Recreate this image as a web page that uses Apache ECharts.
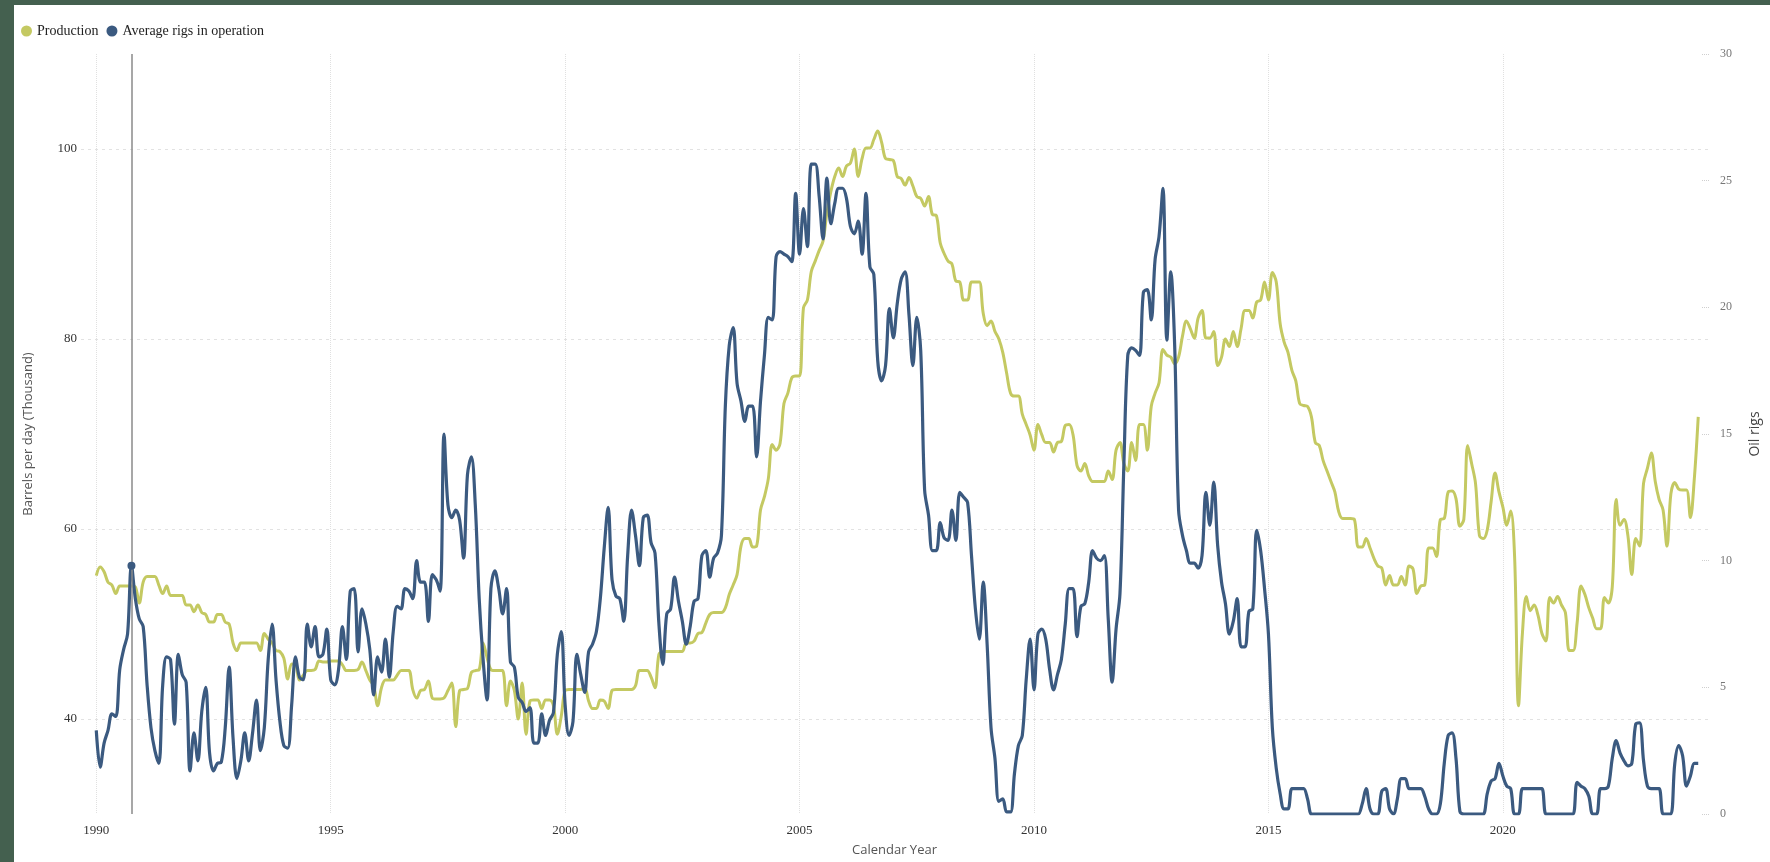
<!DOCTYPE html>
<html><head><meta charset="utf-8">
<script src="https://cdn.jsdelivr.net/npm/echarts@6/dist/echarts.min.js"></script>
<style>
html,body{margin:0;padding:0;background:#44604f;width:1770px;height:862px;overflow:hidden}
#chart{position:absolute;left:14px;top:5px;width:1756px;height:857px;background:#fff}
</style></head><body><div id="chart"></div>
<script>
// Monthly data, January 1990 to March 2024
const startYear = 1990;
const seriesNames = ['Production', 'Average rigs in operation'];
const production = [
55.1,56,55.5,54.4,54.1,53.2,54,54,54,54,
53.9,52.2,54.4,55,55,55,54.1,53.2,54,53,
53,53,53,52,52,51.3,52,51.2,51,50.2,
50.2,51,51,50.2,50,48,47.2,48,48,48,
48,48,47.2,49,48.4,48,47.2,47.1,46.4,44.2,
45.8,45.7,44.1,44.6,45.1,45.1,45.2,46.1,46,46,
46.1,46.1,46.1,45.7,45.1,45.1,45.1,45.2,46,45.1,
44.1,43.5,41.4,43.3,44.1,44.1,44.1,44.6,45.1,45.1,
45.1,43.1,42.2,43,43.1,44,42.2,42.1,42.1,42.2,
43,43.8,39.2,43,43.1,43.2,44.9,45.1,45.2,48,
46.5,45.2,45.1,45.1,45.1,41.4,44,43,40,43.8,
38.4,41.9,42,42,41.1,42,42,41.4,38.4,40.3,
43,43.1,43.1,43.1,43.1,43.3,41.9,41.1,41.1,42,
41.9,41.1,43,43.1,43.1,43.1,43.1,43.1,43.5,45.1,
45.1,45.1,44.4,43.3,46.8,47.1,47.1,47.1,47.1,47.1,
47.1,48,48,48.2,49,49.1,50.1,51,51.2,51.2,
51.2,51.7,53.1,54.1,55.2,58.2,59,59,58.1,58.2,
62,63.4,65.3,68.9,68.3,69,73.2,74.3,75.9,76.1,
76.1,83.3,84.1,87.1,88.2,89.3,90.3,93.3,95.5,97.1,
98,97.1,98.2,98.5,100,97.1,99,100.1,100.1,101,
101.9,100.7,99,98.9,98.8,97.1,96.9,96.2,97,96.1,
95,94.8,94,95,93.1,93,90.1,89,88.2,87.9,
86.1,86,84.1,84.1,86,86,86,82.7,81.4,81.9,
80.8,80,78.6,76.4,74.3,74,74,72.1,71,69.9,
68.3,71,69.9,69.1,69.1,68.1,69.1,69.2,70.9,71,
69.9,66.7,66.1,66.9,65.6,65,65,65,65,66.1,
65.2,68.3,69.1,66.9,66.1,69.1,67.2,71,71,68.3,
72.9,74.3,75.4,78.9,78.3,78.1,77.4,78.1,80.3,81.9,
81.1,80.1,82.2,83,80.1,80.1,80.8,77.2,78.1,80,
79.2,80.8,79.2,81.1,83,83,82.2,83.9,84.1,86,
84.1,87,86,81.6,79.7,78.6,76.7,75.6,73.2,73,
72.9,71.8,69.1,68.8,67.2,66.1,65,63.9,61.8,61.1,
61.1,61.1,61,58.1,58.1,59,58,56.9,56.1,55.9,
54.1,55.1,54.1,54.1,55,54.1,56.1,55.8,53.2,54,
54.1,58,58,57.1,61,61.1,63.9,64,63.2,60.3,
61,68.8,66.9,64.8,59.3,59,59.9,62.9,65.9,63.9,
62.3,60.4,61.9,57.1,41.4,49,52.9,51.4,52,50.9,
49,48.2,52.8,52.2,52.9,52,51.2,47.2,47.2,50.1,
54,53.1,51.7,50.6,49.5,49.5,52.8,52.2,53.9,63.1,
60.4,61,59.3,55.2,59,58.2,64.8,66.4,68,65,
63.1,62,58.2,63.7,64.9,64.2,64.1,64.1,61.2,65.3,71.8
];
const rigs = [
3.3,1.85,2.8,3.3,3.95,3.85,5.7,6.5,7.1,9.8,
8.5,7.7,7.4,5.1,3.4,2.5,2.0,5.1,6.2,6.1,
3.55,6.3,5.5,5.2,1.7,3.2,2.1,4.05,5.0,2.4,
1.7,2.0,2.05,3.4,5.8,3.0,1.4,2.1,3.2,2.1,
3.2,4.5,2.5,3.4,6.1,7.5,5.3,3.65,2.7,2.6,
4.3,6.2,5.4,5.3,7.5,6.6,7.4,6.2,6.3,7.3,
5.3,5.1,5.7,7.4,6.1,8.8,8.9,6.4,8.1,7.5,
6.5,4.7,6.2,5.6,6.9,5.4,7.2,8.2,8.1,8.9,
8.8,8.5,10.0,9.15,9.15,7.6,9.45,9.25,8.8,15.0,
12.2,11.7,12.0,11.6,10.1,13.4,14.1,12.2,8.5,6.1,
4.5,8.9,9.6,8.9,7.9,8.9,6.0,5.8,4.6,4.4,
4.05,4.2,2.8,2.8,3.95,3.1,3.7,4.0,6.3,7.2,
4.3,3.1,3.65,6.3,5.5,4.8,6.4,6.7,7.2,8.5,
10.5,12.1,9.25,8.6,8.5,7.6,10.2,12.0,11.0,9.8,
11.7,11.8,10.7,10.3,7.5,5.9,7.9,8.1,9.35,8.4,
7.6,6.7,7.4,8.4,8.5,10.2,10.4,9.35,10.1,10.3,
11.0,16.1,18.5,19.2,17.0,16.3,15.5,16.1,16.1,14.1,
16.3,18.1,19.6,19.5,22.0,22.2,22.1,22.0,21.8,24.5,
22.1,23.9,22.4,25.65,25.65,24.4,22.7,25.1,23.3,24.1,
24.7,24.7,24.3,23.2,22.9,23.4,22.1,24.5,21.6,21.3,
17.9,17.1,17.7,19.95,18.8,20.15,21.1,21.4,19.7,17.7,
19.6,18.3,12.8,11.8,10.4,10.4,11.5,10.9,10.8,12.0,
10.8,12.7,12.5,12.3,10.2,8.1,6.9,9.15,6.7,3.4,
2.2,0.5,0.6,0.08,0.08,1.6,2.7,3.1,5.3,6.9,
4.9,7.1,7.3,6.9,5.7,4.9,5.5,6.1,7.5,8.9,
8.9,7.0,8.2,8.3,9.15,10.4,10.1,10.0,10.2,7.7,
5.2,7.3,8.7,13.8,18.1,18.4,18.3,18.1,20.6,20.7,
19.5,21.9,22.8,24.7,18.7,21.4,18.5,12.0,11.0,10.4,
9.9,9.9,9.7,10.2,12.7,11.4,13.1,10.6,9.15,8.3,
7.1,7.6,8.5,6.6,6.6,8.0,8.1,11.2,10.4,8.9,
7.1,3.4,1.8,0.8,0.2,0.2,1,1,1,1,
0.6,0,0,0,0,0,0,0,0,0,
0,0,0,0,0.4,1,0.2,0,0,0.9,
1,0.2,0,0.6,1.4,1.4,1,1,1,1,
0.7,0.2,0,0,0.4,2.0,3.1,3.2,2.2,0.1,
0,0,0,0,0,0,0.8,1.3,1.4,2.0,
1.5,1.1,1,0,0,1,1,1,1,1,
1,0,0,0,0,0,0,0,0,1.25,
1.1,1,0.7,0,0,1,1,1.1,2.2,2.9,
2.4,2.1,1.9,2.0,3.55,3.6,2.1,1.1,1,1,
1,0,0,0,2.0,2.7,2.3,1.1,1.5,2.0,2.0
];
const xTickLabels = [1990, 1995, 2000, 2005, 2010, 2015, 2020];
const leftTickLabels = [40, 60, 80, 100];
const hoverIndex = 9; // October 1990 highlighted point

const toPairs = arr => arr.map((v, i) => [startYear + i / 12, v]);
const hoverX = startYear + hoverIndex / 12;

const serif = 'Liberation Serif';
const sans = 'Open Sans';
const chart = echarts.init(document.getElementById('chart'));
chart.setOption({
  animation: false,
  backgroundColor: '#ffffff',
  legend: {
    data: seriesNames,
    left: 2, top: 14,
    icon: 'circle', itemWidth: 11, itemHeight: 11, itemGap: 8,
    textStyle: { fontFamily: serif, fontSize: 14, color: '#222' }
  },
  grid: { left: 52, right: 55, top: 49, bottom: 38, containLabel: false },
  xAxis: {
    type: 'value',
    min: 1989.674, max: 2024.375,
    name: 'Calendar Year', nameLocation: 'middle', nameGap: 30,
    nameTextStyle: { fontFamily: sans, fontSize: 13, color: '#555' },
    axisLine: { show: false },
    axisTick: { show: false, customValues: xTickLabels },
    axisLabel: { customValues: xTickLabels, formatter: v => String(Math.round(v)),
      fontFamily: serif, fontSize: 13, color: '#333', margin: 10 },
    splitLine: { show: true, lineStyle: { color: '#e0e0e0', type: 'dotted', width: 1 } }
  },
  yAxis: [{
    type: 'value', min: 30, max: 110, position: 'left',
    name: 'Barrels per day (Thousand)', nameLocation: 'middle', nameGap: 46, nameRotate: 90,
    nameTextStyle: { fontFamily: sans, fontSize: 13, color: '#555' },
    axisLine: { show: false },
    axisTick: { show: false, customValues: leftTickLabels },
    axisLabel: { customValues: leftTickLabels, fontFamily: serif, fontSize: 13, color: '#333', margin: 4 },
    splitLine: { show: true, lineStyle: { color: '#e2e2e2', type: [3, 4], width: 1 } }
  }, {
    type: 'value', min: 0, max: 30, interval: 5, position: 'right', offset: -6,
    name: 'Oil rigs', nameLocation: 'middle', nameGap: 46, nameRotate: 90,
    nameTextStyle: { fontFamily: sans, fontSize: 14, color: '#444' },
    axisLine: { show: false },
    axisTick: { show: true, inside: false, length: 8, lineStyle: { color: '#cfcfcf', type: 'dotted' } },
    axisLabel: { fontFamily: serif, fontSize: 12, color: '#777', margin: 18 },
    splitLine: { show: false }
  }],
  series: [{
    name: seriesNames[0], type: 'line', yAxisIndex: 0,
    data: toPairs(production), showSymbol: false, smooth: 0.35,
    itemStyle: { color: '#c4c962' },
    lineStyle: { color: '#c4c962', width: 3 },
    z: 2
  }, {
    name: seriesNames[1], type: 'line', yAxisIndex: 1,
    data: toPairs(rigs), showSymbol: false, smooth: 0.35,
    itemStyle: { color: '#3b5a80' },
    lineStyle: { color: '#3b5a80', width: 3.2 },
    z: 3,
    markLine: {
      silent: true, symbol: 'none', animation: false,
      label: { show: false },
      lineStyle: { color: '#8a8a8a', type: 'solid', width: 1.5 },
      data: [{ xAxis: hoverX }]
    },
    markPoint: {
      silent: true, symbol: 'circle', symbolSize: 8,
      label: { show: false },
      itemStyle: { color: '#3b5a80' },
      data: [{ coord: [hoverX, rigs[hoverIndex]] }]
    }
  }]
});
</script></body></html>
